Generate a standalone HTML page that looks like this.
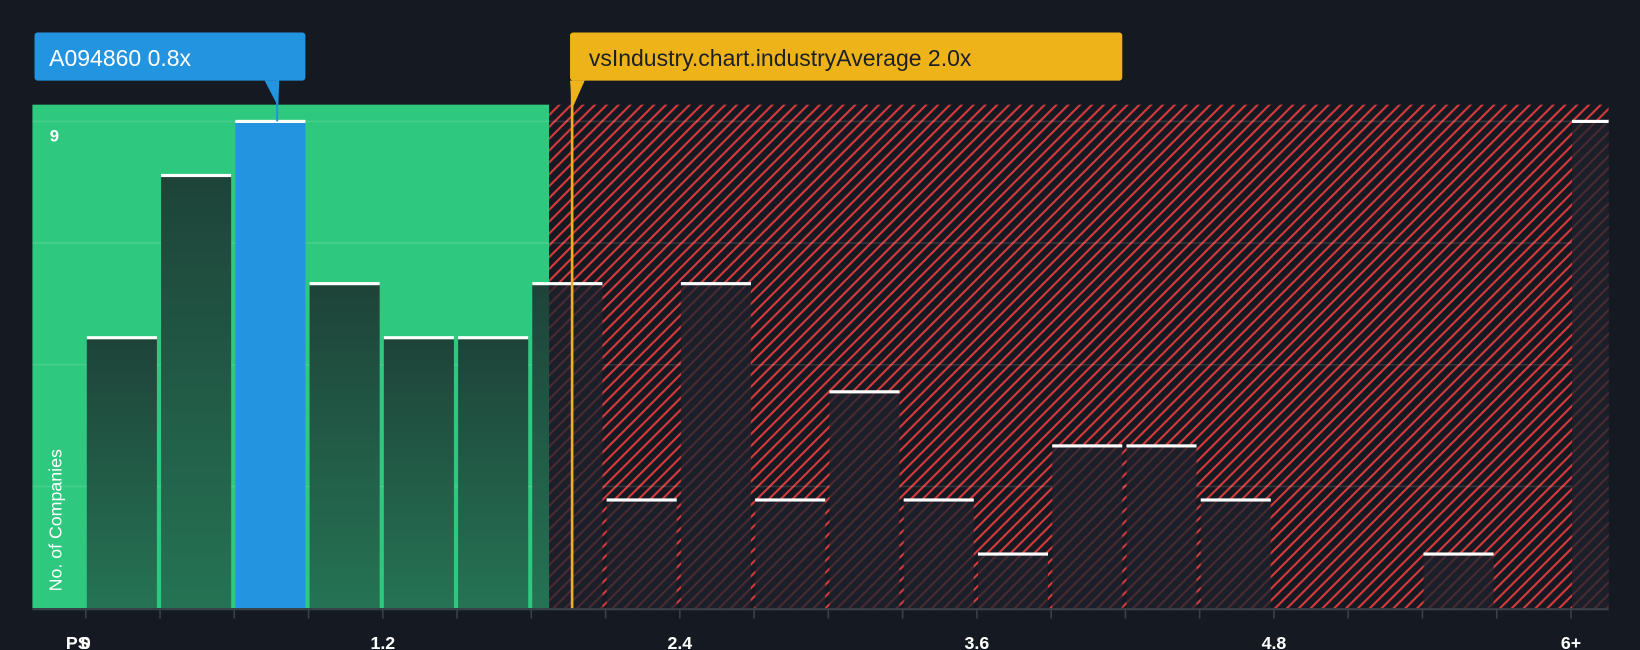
<!DOCTYPE html>
<html><head><meta charset="utf-8">
<style>
html,body{margin:0;padding:0;background:#151a22;}
svg{display:block;font-family:"Liberation Sans",sans-serif;}
</style></head>
<body>
<svg id="chart" width="1640" height="650" viewBox="0 0 1568 621" preserveAspectRatio="none" xmlns="http://www.w3.org/2000/svg">
<defs>
<pattern id="hatch" patternUnits="userSpaceOnUse" width="8" height="8" patternTransform="rotate(45)">
<rect width="8" height="8" fill="#151a22"/>
<rect x="0" y="0" width="2" height="8" fill="#d83a3c"/>
</pattern>
<pattern id="hatchDim" patternUnits="userSpaceOnUse" width="8" height="8" patternTransform="rotate(45)">
<rect width="8" height="8" fill="#1b1f29"/>
<rect x="0" y="0" width="2" height="8" fill="#4a2a31"/>
</pattern>
<linearGradient id="greenBar" x1="0" y1="0" x2="0" y2="1">
<stop offset="0" stop-color="#1e4339"/>
<stop offset="1" stop-color="#257354"/>
</linearGradient>
</defs>
<rect x="0" y="0" width="1568" height="621" fill="#151a22"/>
<g id="regions"></g>
<g id="grid"></g>
<g id="bars"></g>
<g id="axis"></g>
<g id="annotations"></g>
</svg>
<script>
const binLabels = ["0","0.3","0.6","0.9","1.2","1.5","1.8","2.1","2.4","2.7","3.0","3.3","3.6","3.9","4.2","4.5","4.8","5.1","5.4","5.7","6+"];
const counts = [5,8,9,6,5,5,6,2,6,2,4,2,1,3,3,2,0,0,1,0,9];
const tickLabels = ["0","1.2","2.4","3.6","4.8","6+"];
const tickValues = [0,1.2,2.4,3.6,4.8,6.0];
const companyValue = 0.8;
const companyBin = 2;
const industryAvg = 2.0;
const yMax = 9;

const NS = "http://www.w3.org/2000/svg";
const plotL = 31, plotR = 1538, plotT = 100, plotB = 581;
const x0 = 82, binPx = 71, binW = 0.3;
const yTop = 116;
function xScale(v){ return x0 + v / binW * binPx; }
function yScale(c){ return plotB - c / yMax * (plotB - yTop); }
function mk(tag, attrs, parent){
  const e = document.createElementNS(NS, tag);
  for (const k in attrs) e.setAttribute(k, attrs[k]);
  parent.appendChild(e);
  return e;
}
const regions = document.getElementById('regions');
const avgX = xScale(industryAvg) - 22;
let r = mk('rect', {x: plotL, y: plotT, width: 525 - plotL, height: plotB - plotT, fill: '#2ec87f'}, regions);


r = mk('rect', {x: 525, y: plotT, width: plotR - 525, height: plotB - plotT, fill: 'url(#hatch)'}, regions);



const grid = document.getElementById('grid');
for (let i = 1; i <= 4; i++) {
  const y = yScale(yMax * i / 4);
  const g = mk('line', {x1: plotL, x2: plotR, y1: y, y2: y, stroke: 'rgba(255,255,255,0.12)', 'stroke-width': 1.5}, grid);
  
  
}

const bars = document.getElementById('bars');
counts.forEach((c, i) => {
  if (c <= 0) return;
  const left = x0 + i * binPx + 1;
  let w = binPx - 4;
  if (left + w > plotR) w = plotR - left;
  const top = yScale(c);
  const inGreen = left + w <= 526;
  const partial = left < 525 && left + w > 525;
  let fill = i === companyBin ? '#2394e0' : (inGreen ? 'url(#greenBar)' : 'url(#hatchDim)');
  const b = mk('rect', {x: left, y: top, width: w, height: plotB - top, fill: fill}, bars);
  
  
  if (partial) {
    const gpart = mk('rect', {x: left, y: top, width: 525 - left, height: plotB - top, fill: 'url(#greenBar)'}, bars);
    
    
  }
  const cap = mk('rect', {x: left, y: top - 1.5, width: w, height: 3, fill: '#ffffff'}, bars);
  
  
});

const axis = document.getElementById('axis');
let al = mk('line', {x1: plotL, x2: plotR, y1: plotB + 1, y2: plotB + 1, stroke: '#3a4049', 'stroke-width': 2}, axis);


for (let i = 0; i <= 20; i++) {
  const x = x0 + i * binPx;
  const t = mk('line', {x1: x, x2: x, y1: plotB, y2: plotB + 10, stroke: '#3a4049', 'stroke-width': 1.5}, axis);
  
  
}
tickValues.forEach((v, i) => {
  const t = mk('text', {x: xScale(v), y: 620, fill: '#ffffff', 'font-size': 17, 'font-weight': 'bold', 'text-anchor': 'middle'}, axis);
  t.textContent = tickLabels[i];
  
  
});
let ps = mk('text', {x: 63, y: 620, fill: '#ffffff', 'font-size': 17, 'font-weight': 'bold'}, axis);
ps.textContent = 'PS';


let yl = mk('text', {x: 52, y: 135, fill: '#ffffff', 'font-size': 16, 'font-weight': 'bold', 'text-anchor': 'middle'}, axis);
yl.textContent = String(yMax);


let yt = mk('text', {x: 0, y: 0, fill: '#ffffff', 'font-size': 17, transform: 'translate(59,565) rotate(-90)'}, axis);
yt.textContent = 'No. of Companies';



const ann = document.getElementById('annotations');
// industry average line
let il = mk('line', {x1: 547, x2: 547, y1: 77, y2: plotB, stroke: '#edb319', 'stroke-width': 2.5}, ann);


let ip = mk('path', {d: 'M545,77 L559,77 L547,104 Z', fill: '#edb319'}, ann);


let ib = mk('rect', {x: 545, y: 31, width: 528, height: 46, rx: 3, fill: '#edb319'}, ann);


let it = mk('text', {x: 563, y: 63, fill: '#1b1f27', 'font-size': 22}, ann);
it.textContent = 'vsIndustry.chart.industryAverage ' + industryAvg.toFixed(1) + 'x';


// company marker
let cl = mk('line', {x1: 265, x2: 265, y1: 77, y2: yTop, stroke: '#2394e0', 'stroke-width': 2}, ann);


let cp = mk('path', {d: 'M253,77 L267,77 L266,102 Z', fill: '#2394e0'}, ann);


let cb = mk('rect', {x: 33, y: 31, width: 259, height: 46, rx: 3, fill: '#2394e0'}, ann);


let ct = mk('text', {x: 47, y: 63, fill: '#ffffff', 'font-size': 22}, ann);
ct.textContent = 'A094860 ' + companyValue.toFixed(1) + 'x';


</script>
</body></html>
